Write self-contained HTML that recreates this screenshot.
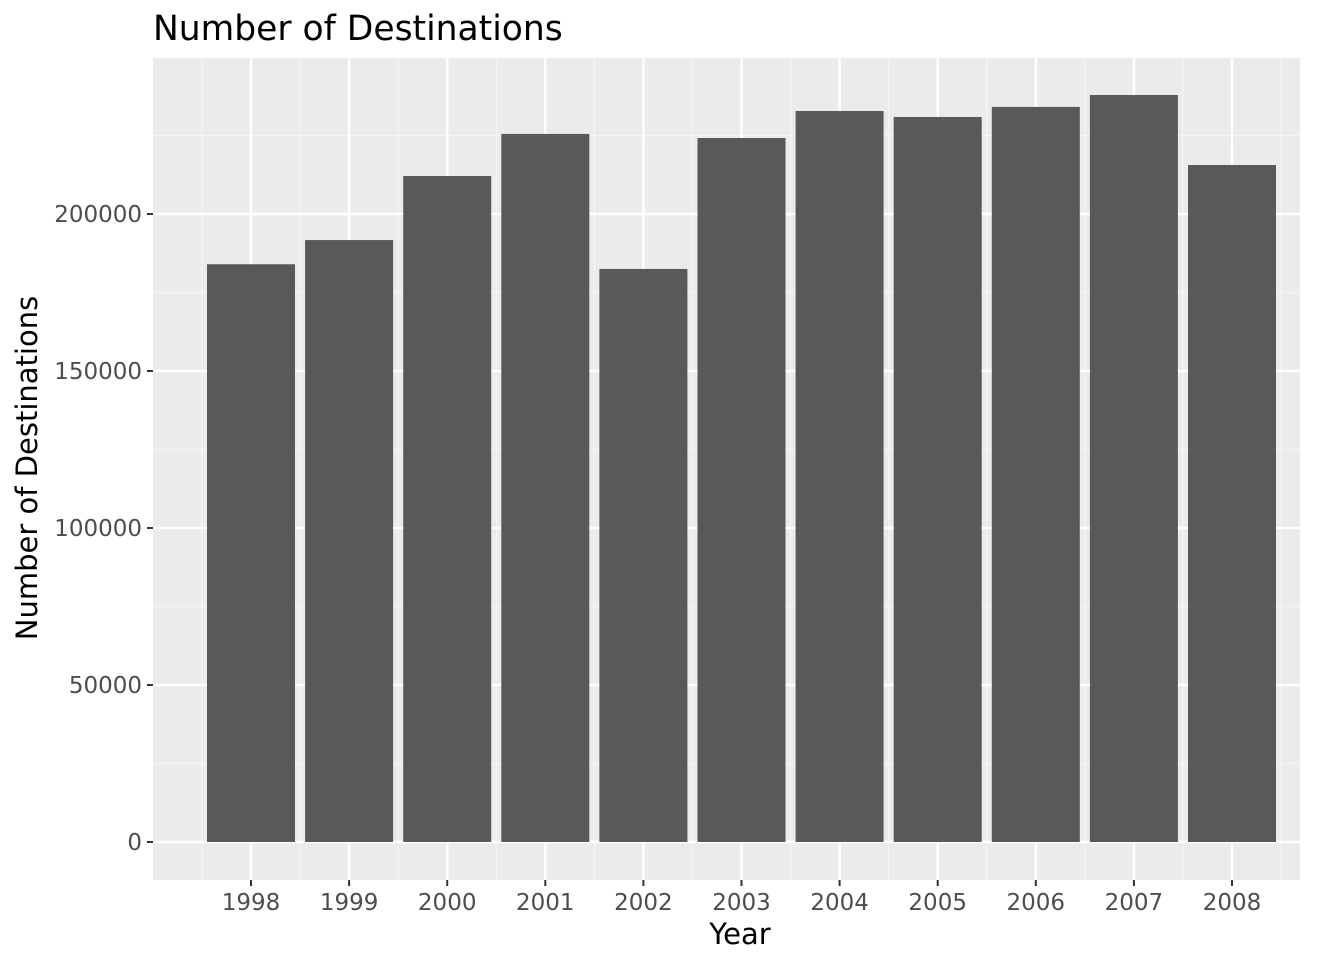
<!DOCTYPE html>
<html><head><meta charset="utf-8"><style>
body{margin:0;background:#fff;}
svg{display:block;font-family:"DejaVu Sans","Liberation Sans",sans-serif;}
</style></head><body>
<svg id="chart" width="1344" height="960">
<text x="153" y="40" font-size="34.5" fill="#000">Number of Destinations</text>
<rect x="153" y="58" width="1147" height="822" fill="#ebebeb"/>
<g id="grid"></g><g id="bars"></g><g id="axes"></g>
<text x="740" y="944" font-size="29" text-anchor="middle" fill="#000">Year</text>
<text transform="translate(37,468) rotate(-90)" font-size="29" text-anchor="middle" fill="#000">Number of Destinations</text>
</svg>
<script>
const years=["1998","1999","2000","2001","2002","2003","2004","2005","2006","2007","2008"];
const values=[184000,191700,212100,225500,182500,224200,232800,230900,234100,237900,215600];
const yTicks=[0,50000,100000,150000,200000];
const NS="http://www.w3.org/2000/svg";
const y=v=>842-v*628/200000;
const x=i=>251+i*98.1;
function mk(tag,attrs,parent){const e=document.createElementNS(NS,tag);for(const k in attrs)e.setAttribute(k,attrs[k]);parent.appendChild(e);return e;}
const grid=document.getElementById('grid'),bars=document.getElementById('bars'),axes=document.getElementById('axes');
for(let v=25000;v<=250000;v+=50000){const yy=y(v);if(yy<58)continue;const l=mk('line',{x1:153,x2:1300,y1:yy,y2:yy,stroke:'#f5f5f5','stroke-width':1.2},grid);

}
for(let i=0;i<=years.length;i++){const xx=x(i)-49;const l=mk('line',{x1:xx,x2:xx,y1:58,y2:880,stroke:'#f5f5f5','stroke-width':1.2},grid);

}
yTicks.forEach(v=>{const yy=y(v);const l=mk('line',{x1:153,x2:1300,y1:yy,y2:yy,stroke:'#fff','stroke-width':2.4},grid);


const t=mk('line',{x1:147,x2:153,y1:yy,y2:yy,stroke:'#333','stroke-width':2},axes);


const tx=mk('text',{x:142,y:yy+8,'font-size':23,'text-anchor':'end',fill:'#4d4d4d'},axes);tx.textContent=v;

});
years.forEach((yr,i)=>{const xx=x(i);const l=mk('line',{x1:xx,x2:xx,y1:58,y2:880,stroke:'#fff','stroke-width':2.4},grid);


const b=mk('rect',{x:xx-44,y:y(values[i]),width:88,height:y(0)-y(values[i]),fill:'#595959'},bars);


const t=mk('line',{x1:xx,x2:xx,y1:880,y2:886,stroke:'#333','stroke-width':2},axes);


const tx=mk('text',{x:xx,y:910,'font-size':23,'text-anchor':'middle',fill:'#4d4d4d'},axes);tx.textContent=yr;

});
</script>
</body></html>
